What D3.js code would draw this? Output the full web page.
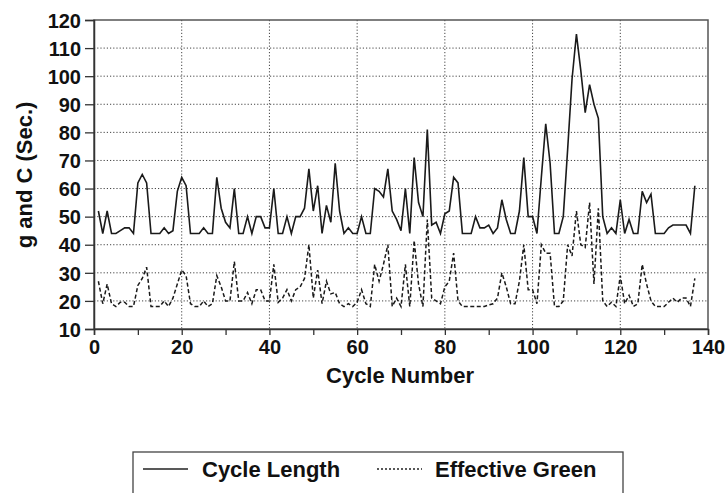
<!DOCTYPE html>
<html>
<head>
<meta charset="utf-8">
<script src="https://cdn.jsdelivr.net/npm/d3@7"></script>
<style>
  html, body { margin: 0; padding: 0; background: #fff; }
  svg { display: block; }
  text { font-family: "Liberation Sans", Arial, Helvetica, sans-serif; font-weight: bold; fill: #111; }
</style>
</head>
<body>
<svg id="chart" width="728" height="493"></svg>
<script>
// ---- data ----
const cycleNumbers = d3.range(1, 138);
const cycleLength = [
  52, 44, 52, 44, 44, 45, 46, 46, 44, 62,
  65, 62, 44, 44, 44, 46, 44, 45, 59, 64,
  61, 44, 44, 44, 46, 44, 44, 64, 53, 48,
  46, 60, 44, 44, 50, 44, 50, 50, 46, 46,
  60, 44, 44, 50, 44, 50, 50, 53, 67, 52,
  61, 44, 54, 48, 69, 52, 44, 46, 44, 44,
  50, 44, 44, 60, 59, 57, 67, 52, 49, 45,
  60, 44, 71, 55, 50, 81, 47, 48, 44, 51,
  52, 64, 62, 44, 44, 44, 50, 46, 46, 47,
  44, 46, 56, 49, 44, 44, 52, 71, 50, 50,
  44, 64, 83, 69, 44, 44, 50, 74, 99, 115,
  102, 87, 97, 90, 85, 50, 44, 46, 44, 56,
  44, 49, 44, 44, 59, 55, 58, 44, 44, 44,
  46, 47, 47, 47, 47, 44, 61
];
const effectiveGreen = [
  27, 19, 26, 19, 18, 19.5, 19.5, 18, 18, 25.5,
  28, 32, 18, 18, 18, 20, 18, 21, 26, 31,
  29, 19, 18, 18, 20, 18, 19, 29, 25, 20,
  20, 34, 20, 20, 23, 19, 24, 24, 20, 20,
  33, 19.5, 21, 24, 20, 24, 25, 28, 40, 21,
  31, 19, 27, 22.5, 23, 19, 18, 19, 18, 19.5,
  24, 19, 18, 33, 27, 33, 40, 18, 21, 18,
  33, 18, 41.5, 26, 18, 49, 21, 20, 19, 25,
  27, 37, 20, 18, 18, 18, 18, 18, 18, 18.6,
  19, 21, 30, 25, 19, 19, 27, 40, 24, 24,
  19, 40, 37, 37, 18, 18, 20, 40, 36, 52,
  40, 39, 55, 26, 53, 20, 18, 19.5, 18, 29,
  19, 22, 18, 19, 33, 26, 20, 18, 18, 18,
  19.5, 21, 19.5, 21, 21, 18, 28
];
const xTicks = d3.range(0, 141, 20);
const xMinorTicks = d3.range(0, 141, 10);
const yTicks = d3.range(10, 121, 10);
const seriesNames = ["Cycle Length", "Effective Green"];

// ---- layout ----
const svg = d3.select("#chart");
const L = 94, R = 708, T = 20, B = 329;
const x = d3.scaleLinear().domain([0, 140]).range([L, R]);
const y = d3.scaleLinear().domain([10, 120]).range([B, T]);
const FONT = "'Liberation Sans', Arial, sans-serif";

// grid
const grid = svg.append("g").attr("stroke", "#444").attr("stroke-width", 1).attr("stroke-dasharray", "1.2,2");
grid.selectAll("line.h").data(yTicks.filter(v => v > 10 && v < 120)).join("line")
  .attr("class", "h")
  .attr("x1", L).attr("x2", R).attr("y1", d => y(d)).attr("y2", d => y(d));
grid.selectAll("line.v").data(xTicks.filter(v => v > 0 && v < 140)).join("line")
  .attr("class", "v")
  .attr("y1", T).attr("y2", B).attr("x1", d => x(d)).attr("x2", d => x(d));

// frame
svg.append("rect").attr("x", L).attr("y", T).attr("width", R - L).attr("height", B - T)
  .attr("fill", "none").attr("stroke", "#555").attr("stroke-width", 1.5);

// axes
const xAxis = d3.axisBottom(x).tickValues(xMinorTicks).tickSize(6)
  .tickFormat(d => xTicks.includes(d) ? d : "");
const gx = svg.append("g").attr("transform", `translate(0,${B})`).call(xAxis);
gx.select(".domain").attr("stroke", "#333").attr("stroke-width", 1.5);
gx.selectAll(".tick line").attr("stroke", "#333").attr("stroke-width", 1.3);
gx.selectAll(".tick text").attr("font-size", 20).attr("dy", "0.95em").attr("y", 6)
  .style("font-family", FONT).style("font-weight", "bold").attr("fill", "#111");

const yAxis = d3.axisLeft(y).tickValues(yTicks).tickSize(9).tickPadding(4);
const gy = svg.append("g").attr("transform", `translate(${L},0)`).call(yAxis);
gy.select(".domain").attr("stroke", "#333").attr("stroke-width", 1.5);
gy.selectAll(".tick line").attr("stroke", "#333").attr("stroke-width", 1.3);
gy.selectAll(".tick text").attr("font-size", 20).attr("dy", "0.36em")
  .style("font-family", FONT).style("font-weight", "bold").attr("fill", "#111");

// lines
const line = d3.line().x((d, i) => x(cycleNumbers[i])).y(d => y(d));
svg.append("path").datum(effectiveGreen).attr("d", line)
  .attr("fill", "none").attr("stroke", "#1a1a1a").attr("stroke-width", 1.5).attr("stroke-dasharray", "4,2.5");
svg.append("path").datum(cycleLength).attr("d", line)
  .attr("fill", "none").attr("stroke", "#1a1a1a").attr("stroke-width", 1.6);

// axis titles
svg.append("text").attr("x", 400).attr("y", 383).attr("text-anchor", "middle")
  .attr("font-size", 22).text("Cycle Number");
svg.append("text").attr("transform", "translate(32,175) rotate(-90)").attr("text-anchor", "middle")
  .attr("font-size", 22).text("g and C (Sec.)");

// legend
const lg = svg.append("g");
lg.append("rect").attr("x", 133).attr("y", 452).attr("width", 490).attr("height", 60)
  .attr("fill", "none").attr("stroke", "#444").attr("stroke-width", 1.3);
lg.append("line").attr("x1", 143).attr("x2", 188).attr("y1", 469).attr("y2", 469)
  .attr("stroke", "#222").attr("stroke-width", 1.3);
lg.append("text").attr("x", 202).attr("y", 477).attr("font-size", 22).text(seriesNames[0]);
lg.append("line").attr("x1", 377).attr("x2", 422).attr("y1", 469).attr("y2", 469)
  .attr("stroke", "#222").attr("stroke-width", 1.3).attr("stroke-dasharray", "2,2");
lg.append("text").attr("x", 435).attr("y", 477).attr("font-size", 22).text(seriesNames[1]);
</script>
</body>
</html>
